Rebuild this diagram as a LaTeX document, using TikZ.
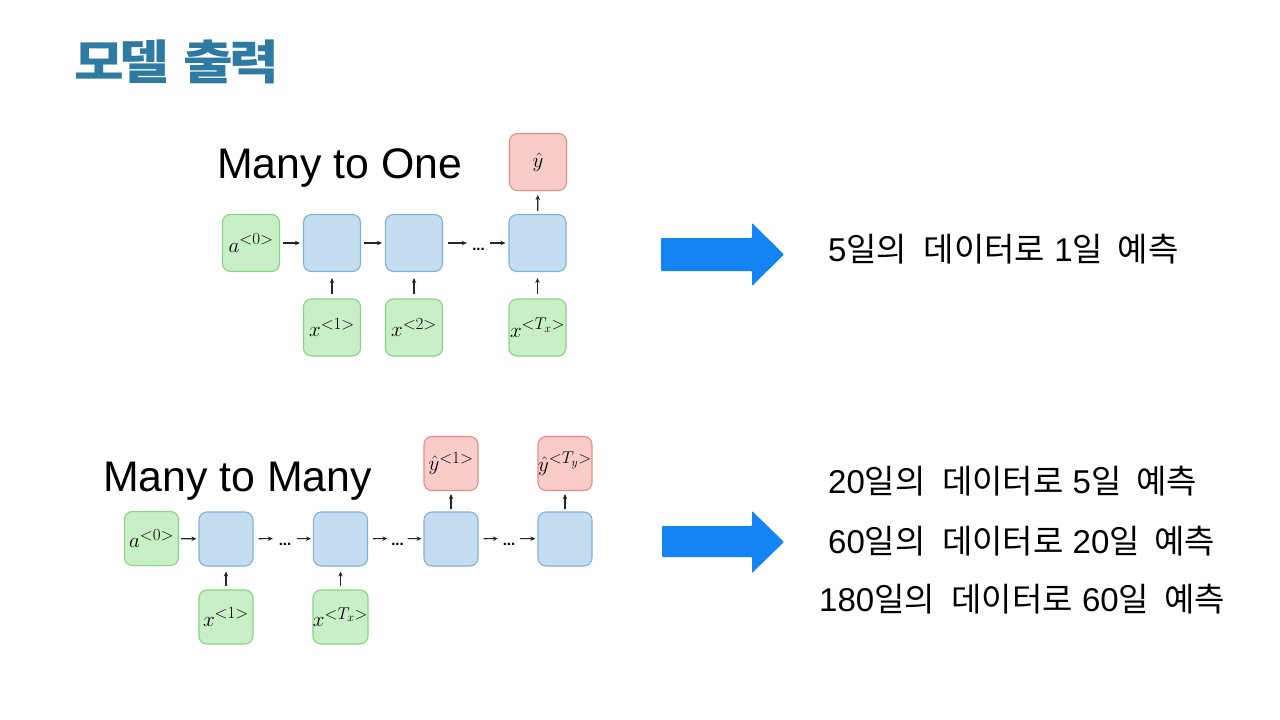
\documentclass[tikz,border=0pt]{standalone}
\usepackage{fix-cm}
\usepackage[no-math]{fontspec}
\setmainfont{Liberation Sans}
\newfontfamily\kr{Noto Sans CJK KR}
\usetikzlibrary{arrows.meta}
\DeclareMathSizes{21}{21}{17}{12}
\definecolor{bfill}{RGB}{196,221,240}
\definecolor{bdraw}{RGB}{126,178,214}
\definecolor{gfill}{RGB}{200,239,198}
\definecolor{gdraw}{RGB}{140,210,135}
\definecolor{rfill}{RGB}{248,204,200}
\definecolor{rdraw}{RGB}{232,140,136}
\definecolor{titlec}{RGB}{46,122,160}
\definecolor{bigarrow}{RGB}{20,132,245}
\newcommand\K[1]{{\kr #1}}
\newcommand\dotstxt{\raisebox{-7pt}{\fontsize{15}{18}\selectfont\bfseries ...}}
\tikzset{
  cell/.style={rounded corners=8pt, minimum width=#1, minimum height=#1, line width=1.1pt, inner sep=0pt, font=\fontsize{21}{25}\selectfont},
  bluebox/.style={cell=#1, fill=bfill, draw=bdraw},
  greenbox/.style={cell=#1, fill=gfill, draw=gdraw},
  redbox/.style={cell=#1, fill=rfill, draw=rdraw},
  arr/.style={-{Stealth[length=5pt,width=4.5pt]}, line width=1.1pt, black!85},
  dotsn/.style={inner sep=0pt, minimum width=#1, text height=0pt, text depth=0pt},
  heading/.style={anchor=base west, inner sep=0pt, font=\fontsize{42.8}{48}\selectfont},
  kline/.style={anchor=base west, inner sep=0pt, font=\fontsize{33}{38}\selectfont},
}
\begin{document}
\begin{tikzpicture}[x=1pt,y=-1pt]
\useasboundingbox[fill=white] (0,0) rectangle (1280,720);

% title
\node[anchor=base west, inner sep=0pt, text=titlec, font=\fontsize{47}{52}\selectfont\kr\bfseries] (title) at (74,79) {\scalebox{1.15}[1]{모\kern-4pt델\hspace{13pt}출\kern-4pt력}};

% ---------- Many to One ----------
\node[heading] (m2o) at (217,178) {Many to One};
\node[greenbox=57pt] (a0) at (251,243) {$a^{<0>}$};
\node[bluebox=57pt] (b1) at (332,243) {};
\node[bluebox=57pt] (b2) at (414,243) {};
\node[bluebox=57pt] (b3) at (537.5,243) {};
\node[redbox=57pt] (yh) at (538,162) {$\hat{y}$};
\node[greenbox=57pt] (x1) at (332,327.5) {$x^{<1>}$};
\node[greenbox=57pt] (x2) at (414,327.5) {$x^{<2>}$};
\node[greenbox=57pt] (xT) at (537.5,327.5) {$x^{<T_x>}$};
\node[dotsn=23pt] (d1) at (478.5,243) {\dotstxt};

\draw[arr, shorten <=3pt, shorten >=3pt] (a0) -- (b1);
\draw[arr, shorten <=3pt, shorten >=3pt] (b1) -- (b2);
\draw[arr, shorten <=5pt] (b2) -- (d1);
\draw[arr, shorten >=3pt] (d1) -- (b3);
\draw[arr, shorten <=4pt, shorten >=6pt] (x1) -- (b1);
\draw[arr, shorten <=4pt, shorten >=6pt] (x2) -- (b2);
\draw[arr, shorten <=4pt, shorten >=6pt] (xT) -- (b3);
\draw[arr, shorten <=3pt, shorten >=4pt] (b3) -- (yh);

% ---------- Many to Many ----------
\node[heading] (m2m) at (103,491) {Many to Many};
\node[greenbox=54pt] (ma0) at (151.5,538.5) {$a^{<0>}$};
\node[bluebox=54pt] (mb1) at (226,539) {};
\node[bluebox=54pt] (mb2) at (340.5,539) {};
\node[bluebox=54pt] (mb3) at (451,539) {};
\node[bluebox=54pt] (mb4) at (565,539) {};
\node[redbox=54pt] (my1) at (451,463.5) {$\hat{y}^{<1>}$};
\node[redbox=54pt] (myT) at (565,463.5) {$\hat{y}^{<T_y>}$};
\node[greenbox=54pt] (mx1) at (226,617) {$x^{<1>}$};
\node[greenbox=54pt] (mxT) at (340.5,617) {$x^{<T_x>}$};
\node[dotsn=24pt] (md1) at (285,538.5) {\dotstxt};
\node[dotsn=20pt] (md2) at (397.5,538.5) {\dotstxt};
\node[dotsn=22pt] (md3) at (509,538.5) {\dotstxt};

\draw[arr, shorten <=2pt, shorten >=2pt] (ma0) -- (mb1);
\draw[arr, shorten <=5pt] (mb1) -- (md1);
\draw[arr, shorten >=2pt] (md1) -- (mb2);
\draw[arr, shorten <=5pt] (mb2) -- (md2);
\draw[arr, shorten >=2pt] (md2) -- (mb3);
\draw[arr, shorten <=5pt] (mb3) -- (md3);
\draw[arr, shorten >=2pt] (md3) -- (mb4);
\draw[arr, shorten <=3pt, shorten >=5pt] (mx1) -- (mb1);
\draw[arr, shorten <=3pt, shorten >=5pt] (mxT) -- (mb2);
\draw[arr, shorten <=2pt, shorten >=3pt] (mb3) -- (my1);
\draw[arr, shorten <=2pt, shorten >=3pt] (mb4) -- (myT);

% ---------- big arrows ----------
\fill[bigarrow, rounded corners=0.8pt] (661,238) -- (752,238) -- (752,223) -- (784,254.5) -- (752,286) -- (752,271) -- (661,271) -- cycle;
\fill[bigarrow, rounded corners=0.8pt] (662,526) -- (752,526) -- (752,511) -- (784,542) -- (752,573) -- (752,557) -- (662,557) -- cycle;

% ---------- texts ----------
\node[kline] (t1) at (828,261) {5\K{일의\hspace{0.5em}데이터로} 1\K{일\hspace{0.45em}예측}};
\node[kline] (t2) at (828,493) {20\K{일의\hspace{0.5em}데이터로} 5\K{일\hspace{0.45em}예측}};
\node[kline] (t3) at (828,553) {60\K{일의\hspace{0.5em}데이터로} 20\K{일\hspace{0.45em}예측}};
\node[kline] (t4) at (819,611) {180\K{일의\hspace{0.5em}데이터로} 60\K{일\hspace{0.45em}예측}};
\end{tikzpicture}
\end{document}
